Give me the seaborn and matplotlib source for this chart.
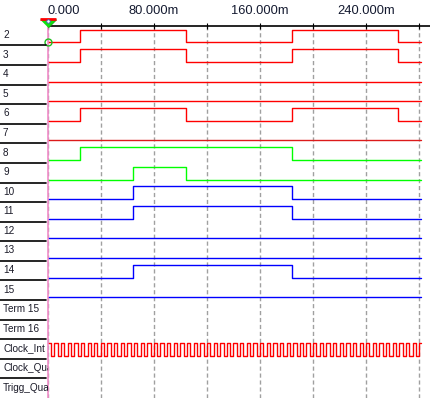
import numpy as np
import pandas as pd
import seaborn as sns
import matplotlib.pyplot as plt

# logic analyser style timing chart, times in ms

row_labels = ["2", "3", "4", "5", "6", "7", "8", "9", "10", "11", "12", "13", "14", "15",
              "Term 15", "Term 16", "Clock_Int", "Clock_Qua", "Trigg_Qua"]

t_end = 281.5

s2_t = [0, 24, 104, 184, 264]
s2_v = [0, 1, 0, 1, 0]
s3_t = [0, 24, 104, 184, 264]
s3_v = [0, 1, 0, 1, 0]
s4_t = [0]
s4_v = [0]
s5_t = [0]
s5_v = [0]
s6_t = [0, 24, 104, 184, 264]
s6_v = [0, 1, 0, 1, 0]
s7_t = [0]
s7_v = [0]
s8_t = [0, 24, 184]
s8_v = [0, 1, 0]
s9_t = [0, 64, 104]
s9_v = [0, 1, 0]
s10_t = [0, 64, 184]
s10_v = [0, 1, 0]
s11_t = [0, 64, 184]
s11_v = [0, 1, 0]
s12_t = [0]
s12_v = [0]
s13_t = [0]
s13_v = [0]
s14_t = [0, 64, 184]
s14_v = [0, 1, 0]
s15_t = [0]
s15_v = [0]

clock_t = [0, 2.5, 5, 7.5, 10, 12.5, 15, 17.5, 20, 22.5,
           25, 27.5, 30, 32.5, 35, 37.5, 40, 42.5, 45, 47.5,
           50, 52.5, 55, 57.5, 60, 62.5, 65, 67.5, 70, 72.5,
           75, 77.5, 80, 82.5, 85, 87.5, 90, 92.5, 95, 97.5,
           100, 102.5, 105, 107.5, 110, 112.5, 115, 117.5, 120, 122.5,
           125, 127.5, 130, 132.5, 135, 137.5, 140, 142.5, 145, 147.5,
           150, 152.5, 155, 157.5, 160, 162.5, 165, 167.5, 170, 172.5,
           175, 177.5, 180, 182.5, 185, 187.5, 190, 192.5, 195, 197.5,
           200, 202.5, 205, 207.5, 210, 212.5, 215, 217.5, 220, 222.5,
           225, 227.5, 230, 232.5, 235, 237.5, 240, 242.5, 245, 247.5,
           250, 252.5, 255, 257.5, 260, 262.5, 265, 267.5, 270, 272.5,
           275, 277.5, 280]
clock_v = [1, 0, 1, 0, 1, 0, 1, 0, 1, 0,
           1, 0, 1, 0, 1, 0, 1, 0, 1, 0,
           1, 0, 1, 0, 1, 0, 1, 0, 1, 0,
           1, 0, 1, 0, 1, 0, 1, 0, 1, 0,
           1, 0, 1, 0, 1, 0, 1, 0, 1, 0,
           1, 0, 1, 0, 1, 0, 1, 0, 1, 0,
           1, 0, 1, 0, 1, 0, 1, 0, 1, 0,
           1, 0, 1, 0, 1, 0, 1, 0, 1, 0,
           1, 0, 1, 0, 1, 0, 1, 0, 1, 0,
           1, 0, 1, 0, 1, 0, 1, 0, 1, 0,
           1, 0, 1, 0, 1, 0, 1, 0, 1, 0,
           1, 0, 1]

tick_major = [0, 80, 160, 240]
tick_labels = ["0.000", "80.000m", "160.000m", "240.000m"]
tick_minor = [40, 120, 200, 280]

RED = "#ff0000"
GREEN = "#00ff00"
BLUE = "#0000ff"

# row label -> (times, levels, colour)
traces = {
    "2": (s2_t, s2_v, RED),
    "3": (s3_t, s3_v, RED),
    "4": (s4_t, s4_v, RED),
    "5": (s5_t, s5_v, RED),
    "6": (s6_t, s6_v, RED),
    "7": (s7_t, s7_v, "#dc1a1a"),
    "8": (s8_t, s8_v, GREEN),
    "9": (s9_t, s9_v, GREEN),
    "10": (s10_t, s10_v, BLUE),
    "11": (s11_t, s11_v, BLUE),
    "12": (s12_t, s12_v, BLUE),
    "13": (s13_t, s13_v, BLUE),
    "14": (s14_t, s14_v, BLUE),
    "15": (s15_t, s15_v, BLUE),
    "Clock_Int": (clock_t, clock_v, RED),
}

sns.set_style("white")
plt.rcParams['font.family'] = ['Liberation Sans', 'DejaVu Sans']

W, H = 430, 398
fig = plt.figure(figsize=(W / 100, H / 100), dpi=100)
top_px = 25.8
left_px = 47.7
ax = fig.add_axes([left_px / W, 0, 1 - left_px / W, (H - top_px) / H])
lab = fig.add_axes([0, 0, left_px / W, (H - top_px) / H])

nrows = len(row_labels)
LOW, SWING = 0.85, 0.66

for i, name in enumerate(row_labels):
    if name not in traces:
        continue
    t, v, col = traces[name]
    df = pd.DataFrame({"t": list(t) + [t_end], "v": list(v) + [v[-1]]})
    df["y"] = i + LOW - SWING * df["v"]
    sns.lineplot(data=df, x="t", y="y", drawstyle="steps-post", estimator=None,
                 sort=False, color=col, linewidth=1.0, ax=ax)

ax.set_xlim(0, (W - left_px) / 1.327)
ax.set_ylim(nrows, 0)
ax.set_xlabel("")
ax.set_ylabel("")
ax.set_yticks([])
ax.xaxis.set_ticks_position("top")
ax.set_xticks(tick_major)
ax.set_xticklabels(tick_labels, fontsize=9.3, color="#141a30")
ax.set_xticks(tick_minor, minor=True)
ax.get_xticklabels()[0].set_horizontalalignment("left")
ax.tick_params(axis="x", which="both", direction="inout", length=4, width=0.8,
               color="black", top=True, bottom=False, labeltop=True,
               labelbottom=False, pad=4)
ax.grid(False)
ax.grid(True, which="both", axis="x", color="#a0a0a0",
        linestyle=(0, (3, 2)), linewidth=1.0)
for s in ["left", "right", "bottom"]:
    ax.spines[s].set_visible(False)
ax.spines["top"].set_color("black")
ax.spines["top"].set_linewidth(1.2)

# cursor
tri = [(-1, 0.45), (1, 0.45), (0, -0.55)]
ax.axvline(0, color="#f08cc8", linewidth=1.2, clip_on=False, zorder=5)
ax.plot([0], [-0.14], marker=tri, ms=11.5, color="#10e010", mec="#10b010",
        mew=0.6, clip_on=False, zorder=6)
ax.plot([0], [-0.35], marker="_", ms=11.5, mew=2, color="#ff0000",
        clip_on=False, zorder=7)
ax.plot([0], [-0.22], marker="o", ms=2.5, mfc="white", mec="#4060c0", mew=0.6,
        clip_on=False, zorder=8)
ax.plot([0], [LOW], marker="o", ms=5, mfc="none", mec="#20c020", mew=1,
        clip_on=False, zorder=7)

# label column
lab.set_xlim(0, left_px)
lab.set_ylim(nrows, 0)
lab.axis("off")
for i, name in enumerate(row_labels):
    lab.text(3, i + 0.47, name, fontsize=7.2, color="#1a1a28",
             va="center", ha="left", clip_on=True)
    if i < nrows - 1:
        lab.plot([0, 46], [i + 1, i + 1], color="black", linewidth=1.2)

fig.savefig("out.png", dpi=100)
